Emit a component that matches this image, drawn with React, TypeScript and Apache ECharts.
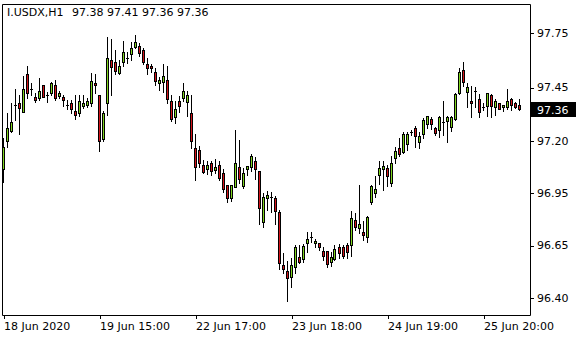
import React, { useEffect, useRef } from "react";
import * as echarts from "echarts";

const symbolName = "I.USDX,H1";

const opens = [
  97.053, 97.199, 97.25, 97.38, 97.39, 97.347, 97.539, 97.461, 97.42, 97.418,
  97.481, 97.432, 97.441, 97.481, 97.428, 97.42, 97.38, 97.39, 97.35, 97.339,
  97.376, 97.38, 97.39, 97.492, 97.431, 97.208, 97.393, 97.61, 97.599, 97.546,
  97.599, 97.619, 97.639, 97.678, 97.682, 97.661, 97.59, 97.58, 97.548, 97.492,
  97.5, 97.508, 97.401, 97.318, 97.401, 97.418, 97.398, 97.339, 97.16, 97.152,
  97.075, 97.053, 97.084, 97.051, 97.075, 97.033, 96.973, 96.906, 96.962, 97.063,
  96.97, 97.053, 97.063, 97.096, 97.045, 96.783, 96.906, 96.912, 96.906, 96.834,
  96.566, 96.535, 96.506, 96.554, 96.605, 96.595, 96.676, 96.71, 96.676, 96.676,
  96.637, 96.637, 96.582, 96.595, 96.659, 96.656, 96.668, 96.668, 96.795, 96.753,
  96.732, 96.71, 96.885, 96.931, 97.024, 97.053, 97.061, 96.982, 97.109, 97.16,
  97.14, 97.181, 97.242, 97.262, 97.191, 97.232, 97.283, 97.308, 97.262, 97.254,
  97.293, 97.301, 97.27, 97.31, 97.441, 97.559, 97.449, 97.401, 97.452, 97.412,
  97.372, 97.377, 97.432, 97.369, 97.39, 97.369, 97.369, 97.412, 97.39, 97.381,
];

const closes = [
  97.168, 97.262, 97.293, 97.38, 97.367, 97.461, 97.441, 97.461, 97.407, 97.451,
  97.42, 97.432, 97.492, 97.418, 97.441, 97.408, 97.38, 97.359, 97.329, 97.401,
  97.39, 97.401, 97.502, 97.481, 97.199, 97.339, 97.619, 97.576, 97.556, 97.58,
  97.65, 97.619, 97.67, 97.701, 97.648, 97.599, 97.568, 97.568, 97.505, 97.508,
  97.529, 97.41, 97.308, 97.361, 97.377, 97.452, 97.432, 97.199, 97.063, 97.084,
  97.041, 97.075, 97.045, 97.063, 97.011, 96.951, 96.909, 96.973, 97.084, 97.002,
  97.033, 97.072, 97.121, 97.053, 96.855, 96.914, 96.922, 96.912, 96.842, 96.574,
  96.544, 96.498, 96.566, 96.656, 96.582, 96.664, 96.697, 96.71, 96.688, 96.656,
  96.613, 96.571, 96.608, 96.647, 96.625, 96.613, 96.633, 96.804, 96.761, 96.773,
  96.718, 96.812, 96.97, 96.951, 97.061, 97.072, 97.021, 97.084, 97.148, 97.131,
  97.232, 97.232, 97.242, 97.223, 97.223, 97.305, 97.326, 97.283, 97.24, 97.318,
  97.293, 97.318, 97.318, 97.436, 97.548, 97.5, 97.471, 97.39, 97.452, 97.347,
  97.372, 97.441, 97.377, 97.401, 97.359, 97.381, 97.401, 97.381, 97.372, 97.36,
];

const lows = [
  96.99, 97.168, 97.245, 97.305, 97.232, 97.347, 97.415, 97.432, 97.398, 97.407,
  97.42, 97.398, 97.432, 97.407, 97.415, 97.376, 97.361, 97.339, 97.308, 97.325,
  97.364, 97.369, 97.376, 97.441, 97.148, 97.198, 97.33, 97.432, 97.538, 97.538,
  97.58, 97.594, 97.61, 97.67, 97.632, 97.589, 97.538, 97.551, 97.483, 97.457,
  97.449, 97.39, 97.301, 97.291, 97.347, 97.401, 97.326, 97.16, 96.999, 97.063,
  97.033, 97.029, 97.024, 97.033, 96.999, 96.939, 96.885, 96.892, 96.962, 96.982,
  96.957, 97.024, 97.045, 97.002, 96.773, 96.761, 96.846, 96.834, 96.773, 96.545,
  96.523, 96.384, 96.455, 96.523, 96.574, 96.582, 96.633, 96.684, 96.656, 96.642,
  96.591, 96.557, 96.562, 96.591, 96.6, 96.6, 96.603, 96.613, 96.744, 96.727,
  96.693, 96.684, 96.876, 96.911, 96.978, 96.948, 96.968, 96.968, 97.084, 97.123,
  97.138, 97.152, 97.228, 97.168, 97.16, 97.211, 97.262, 97.259, 97.228, 97.219,
  97.228, 97.191, 97.249, 97.305, 97.436, 97.478, 97.369, 97.318, 97.369, 97.321,
  97.356, 97.326, 97.318, 97.33, 97.359, 97.352, 97.361, 97.356, 97.364, 97.356,
];

const highs = [
  97.211, 97.339, 97.39, 97.461, 97.432, 97.529, 97.58, 97.492, 97.441, 97.517,
  97.481, 97.449, 97.5, 97.508, 97.454, 97.432, 97.407, 97.407, 97.432, 97.432,
  97.432, 97.418, 97.546, 97.539, 97.431, 97.352, 97.729, 97.716, 97.661, 97.61,
  97.707, 97.653, 97.701, 97.738, 97.696, 97.67, 97.619, 97.59, 97.571, 97.525,
  97.59, 97.58, 97.432, 97.401, 97.427, 97.495, 97.452, 97.432, 97.232, 97.172,
  97.101, 97.096, 97.096, 97.104, 97.096, 97.053, 96.973, 96.973, 97.254, 97.203,
  97.058, 97.072, 97.131, 97.118, 97.045, 96.931, 96.943, 96.939, 96.917, 96.846,
  96.625, 96.586, 96.6, 96.668, 96.668, 96.671, 96.732, 96.735, 96.697, 96.676,
  96.659, 96.637, 96.633, 96.668, 96.673, 96.668, 96.676, 96.842, 96.829, 96.973,
  96.791, 96.815, 96.973, 97.019, 97.096, 97.096, 97.075, 97.121, 97.165, 97.214,
  97.242, 97.245, 97.254, 97.274, 97.245, 97.313, 97.326, 97.321, 97.27, 97.325,
  97.401, 97.325, 97.325, 97.444, 97.568, 97.602, 97.495, 97.478, 97.474, 97.436,
  97.393, 97.444, 97.437, 97.41, 97.39, 97.381, 97.463, 97.418, 97.398, 97.412,
];

const xTickLabels = ["18 Jun 2020", "19 Jun 15:00", "22 Jun 17:00", "23 Jun 18:00", "24 Jun 19:00", "25 Jun 20:00"];
const barsPerXLabel = 24;
const emptyBarsRight = 2;

const yTickLabels = ["97.75", "97.45", "97.20", "96.95", "96.65", "96.40"];
const yTickValues = [97.7455, 97.4677, 97.1975, 96.93, 96.6624, 96.3948];
const yMin = 96.3107;
const yMax = 97.8958;

const BULL = "#7fd51f";
const BEAR = "#d3131a";
const FONT = '11px "DejaVu Sans"';

export default function App() {
  const ref = useRef<HTMLDivElement>(null);

  useEffect(() => {
    if (!ref.current) return;
    const chart = echarts.init(ref.current, null, { renderer: "svg" });
    const n = opens.length;
    const categories = Array.from({ length: n + emptyBarsRight }, (_, i) => String(i));
    const data = opens.map((o, i) => [i, o, closes[i], lows[i], highs[i]]);
    const last = n - 1;
    const ohlcText = [opens[last], highs[last], lows[last], closes[last]].map((v) => v.toFixed(2)).join(" ");

    chart.setOption({
      animation: false,
      grid: { left: 2, top: 4, width: 528, height: 311, containLabel: false, outerBoundsMode: "none" },
      xAxis: {
        type: "category",
        data: categories,
        boundaryGap: true,
        axisLine: { show: false },
        splitLine: { show: false },
        axisTick: {
          show: true,
          alignWithLabel: true,
          interval: barsPerXLabel - 1,
          length: 4,
          lineStyle: { color: "#000" },
        },
        axisLabel: {
          interval: barsPerXLabel - 1,
          align: "left",
          margin: 6,
          color: "#000",
          fontFamily: "DejaVu Sans",
          fontSize: 11,
          formatter: (v: string) => {
            const k = Number(v) / barsPerXLabel;
            return xTickLabels[k] ?? "";
          },
        },
      },
      yAxis: {
        type: "value",
        position: "right",
        min: yMin,
        max: yMax,
        axisLine: { show: false },
        splitLine: { show: false },
        axisTick: { show: true, length: 4, customValues: yTickValues, lineStyle: { color: "#000" } },
        axisLabel: {
          customValues: yTickValues,
          margin: 7,
          color: "#000",
          fontFamily: "DejaVu Sans",
          fontSize: 11,
          formatter: (v: number) => {
            let best = 0;
            yTickValues.forEach((t, i) => {
              if (Math.abs(t - v) < Math.abs(yTickValues[best] - v)) best = i;
            });
            return yTickLabels[best];
          },
        },
      },
      graphic: [
        {
          type: "rect",
          shape: { x: 2.5, y: 4.5, width: 528, height: 311 },
          style: { fill: "none", stroke: "#000", lineWidth: 1 },
          z: 100,
        },
        { type: "text", left: 7, top: 7, style: { text: symbolName, font: FONT, fill: "#000" }, z: 100 },
        { type: "text", left: 72, top: 7, style: { text: ohlcText, font: FONT, fill: "#000" }, z: 100 },
      ],
      series: [
        {
          type: "custom",
          clip: false,
          data,
          encode: { x: 0, y: [1, 2, 3, 4] },
          renderItem: (params: any, api: any) => {
            const i = api.value(0);
            const o = api.value(1);
            const c = api.value(2);
            const l = api.value(3);
            const h = api.value(4);
            const px = api.coord([i, o])[0];
            const col = Math.floor(px) - 1;
            const y = (v: number) => Math.round(api.coord([i, v])[1]);
            const yo = y(o);
            const yc = y(c);
            const yh = y(h);
            const yl = y(l);
            const top = Math.min(yo, yc);
            const bot = Math.max(yo, yc);
            const children: any[] = [
              { type: "rect", shape: { x: col, y: yh, width: 1, height: yl - yh + 1 }, style: { fill: "#000" } },
              { type: "rect", shape: { x: col - 1, y: top, width: 3, height: bot - top + 1 }, style: { fill: "#000" } },
            ];
            if (bot - top >= 2) {
              children.push({
                type: "rect",
                shape: { x: col, y: top + 1, width: 1, height: bot - top - 1 },
                style: { fill: c > o ? BULL : BEAR },
              });
            }
            if (params.dataIndex === last) {
              const cs = params.coordSys;
              const bx = Math.round(cs.x + cs.width) + 1;
              children.push({
                type: "rect",
                shape: { x: bx, y: yc - 7, width: 45, height: 15 },
                style: { fill: "#000" },
              });
              children.push({
                type: "text",
                x: bx + 6,
                y: yc + 1,
                style: { text: c.toFixed(2), fill: "#fff", font: FONT, verticalAlign: "middle", align: "left" },
              });
            }
            return { type: "group", children };
          },
        },
      ],
    });
    return () => chart.dispose();
  }, []);

  return <div ref={ref} style={{ position: "fixed", left: 0, top: 0, width: 580, height: 340, background: "#fff" }} />;
}
